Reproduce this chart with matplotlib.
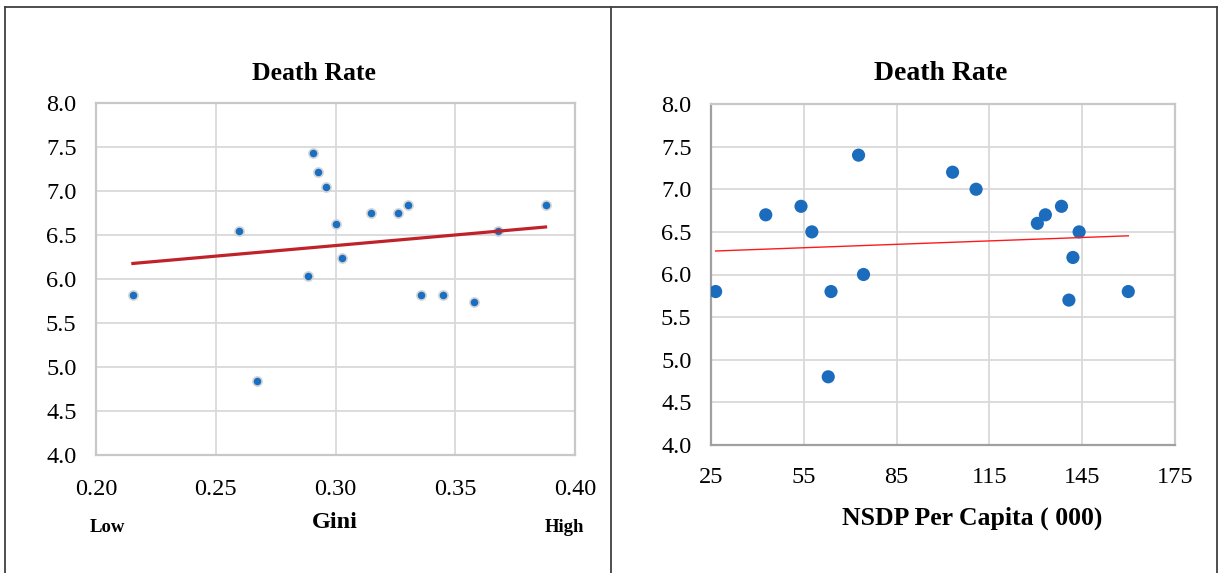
import matplotlib
matplotlib.use('Agg')
import matplotlib.pyplot as plt
from matplotlib.lines import Line2D
import numpy as np

plt.rcParams['font.family'] = ['Liberation Serif', 'DejaVu Serif']

# Left panel: Gini vs death rate
gini = [0.2154, 0.2595, 0.2674, 0.2884, 0.2906, 0.2929, 0.2960, 0.3004, 0.3027,
        0.3147, 0.3259, 0.3303, 0.3359, 0.3448, 0.3579, 0.3678, 0.3877]
death_gini = [5.82, 6.54, 4.84, 6.03, 7.43, 7.22, 7.04, 6.63, 6.24,
              6.75, 6.75, 6.84, 5.82, 5.82, 5.74, 6.54, 6.84]

# Right panel: NSDP per capita vs death rate
nsdp = [26.5, 42.7, 54.1, 57.6, 62.9, 63.8, 72.7, 74.3, 103.1,
        110.7, 130.5, 133.1, 138.3, 140.7, 142.0, 144.0, 159.9]
death_nsdp = [5.8, 6.7, 6.8, 6.5, 4.8, 5.8, 7.4, 6.0, 7.2,
              7.0, 6.6, 6.7, 6.8, 5.7, 6.2, 6.5, 5.8]

gini_ticks = [0.20, 0.25, 0.30, 0.35, 0.40]
nsdp_ticks = [25, 55, 85, 115, 145, 175]
y_ticks = [4.0, 4.5, 5.0, 5.5, 6.0, 6.5, 7.0, 7.5, 8.0]

W, H = 1219, 573
fig = plt.figure(figsize=(W / 100, H / 100), dpi=100)

def box(x0, y0, x1, y1):
    # pixel box -> figure fraction rect
    return [x0 / W, 1 - y1 / H, (x1 - x0) / W, (y1 - y0) / H]

def style(ax, dark_axes):
    ax.set_ylim(4.0, 8.0)
    ax.set_yticks(y_ticks)
    ax.set_yticklabels(['%.1f' % v for v in y_ticks])
    ax.grid(True, color='#d9d9d9', linewidth=1.3)
    ax.set_axisbelow(True)
    ax.tick_params(length=0, labelsize=17.5, pad=14)
    for side in ['top', 'right', 'left', 'bottom']:
        ax.spines[side].set_color('#c8c8c8')
        ax.spines[side].set_linewidth(1.6)
    if dark_axes:
        ax.spines['left'].set_color('#a0a0a0')
        ax.spines['bottom'].set_color('#a0a0a0')

# left chart
ax1 = fig.add_axes(box(96, 103, 575, 455))
style(ax1, False)
ax1.set_xlim(0.20, 0.40)
ax1.set_xticks(gini_ticks)
ax1.set_xticklabels(['%.2f' % v for v in gini_ticks])
ax1.tick_params(axis='x', pad=17)
ax1.scatter(gini, death_gini, s=44, color='#1a6fc0', edgecolor='#d6d6d6',
            linewidth=1.2, zorder=3)
k, b = np.polyfit(gini, death_gini, 1)
xs = np.array([min(gini), max(gini)])
ax1.plot(xs, k * xs + b, color='#c0222a', linewidth=2.3, zorder=4)

fig.text(314 / W, 1 - 73 / H, 'Death Rate', ha='center', va='center',
         fontsize=18.5, fontweight='bold')
fig.text(335 / W, 1 - 522 / H, 'Gini', ha='center', va='center',
         fontsize=17.5, fontweight='bold')
fig.text(107 / W, 1 - 527 / H, 'Low', ha='center', va='center',
         fontsize=13.5, fontweight='bold')
fig.text(564 / W, 1 - 527 / H, 'High', ha='center', va='center',
         fontsize=13.5, fontweight='bold')

# right chart
ax2 = fig.add_axes(box(711, 104, 1175, 445))
style(ax2, True)
ax2.set_xlim(25, 175)
ax2.set_xticks(nsdp_ticks)
ax2.tick_params(axis='x', pad=16)
ax2.scatter(nsdp, death_nsdp, s=90, color='#1c6cbd', edgecolor='none', zorder=3)
k2, b2 = np.polyfit(nsdp, death_nsdp, 1)
xs2 = np.array([min(nsdp), max(nsdp)])
ax2.plot(xs2, k2 * xs2 + b2, color='#ff1a1a', linewidth=1.0, zorder=4)

fig.text(941 / W, 1 - 73 / H, 'Death Rate', ha='center', va='center',
         fontsize=20, fontweight='bold')
fig.text(972 / W, 1 - 518 / H, 'NSDP Per Capita ( 000)', ha='center',
         va='center', fontsize=18.5, fontweight='bold')

# outer frame lines
frame_col = '#404040'
for (x0, y0, x1, y1) in [(4.5, 6.5, 1217, 6.5), (4.5, 6.5, 4.5, 573),
                         (611, 6.5, 611, 573), (1217, 6.5, 1217, 573)]:
    fig.add_artist(Line2D([x0 / W, x1 / W], [1 - y0 / H, 1 - y1 / H],
                          color=frame_col, linewidth=1.3))

fig.savefig('out.png', dpi=100)
